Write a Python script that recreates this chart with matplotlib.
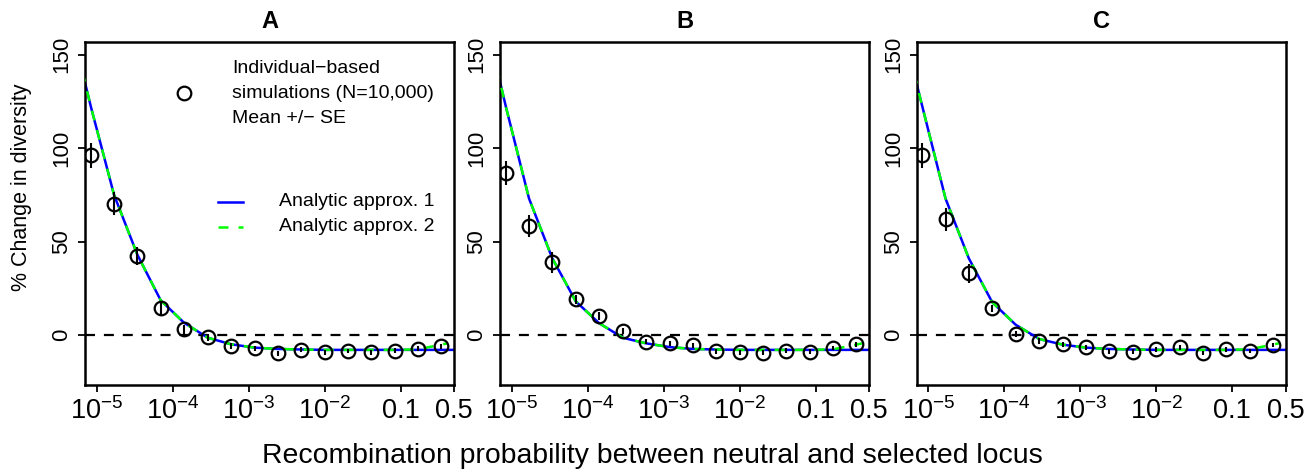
import numpy as np
import matplotlib
matplotlib.use("Agg")
import matplotlib.pyplot as plt

plt.rcParams['font.family'] = ['Liberation Sans', 'DejaVu Sans']
plt.rcParams['mathtext.fontset'] = 'custom'
plt.rcParams['mathtext.rm'] = 'Liberation Sans'
plt.rcParams['mathtext.it'] = 'Liberation Sans:italic'
plt.rcParams['mathtext.bf'] = 'Liberation Sans:bold'

# ---------------- data ----------------
panels = ["A", "B", "C"]

# recombination probabilities of the simulation points
r_sim = [8.4e-6, 1.69e-5, 3.42e-5, 6.95e-5, 1.41e-4, 2.89e-4, 5.85e-4, 1.19e-3,
         2.39e-3, 4.92e-3, 1.0e-2, 2.03e-2, 4.1e-2, 8.3e-2, 0.169, 0.339]

sim_mean_A = [96.1, 70.3, 42.2, 14.2, 3.0, -1.2, -5.9, -7.1, -9.8, -7.9, -9.4, -8.6, -9.4, -8.4, -7.3, -6.1]
sim_se_A   = [6.7, 6.0, 4.8, 3.6, 2.4, 1.8, 1.4, 1.4, 1.3, 1.3, 1.3, 1.3, 1.2, 1.2, 1.2, 1.2]

sim_mean_B = [86.7, 58.2, 38.8, 19.0, 10.1, 2.1, -3.6, -4.5, -5.5, -8.7, -9.3, -9.6, -8.4, -8.9, -7.1, -5.0]
sim_se_B   = [6.5, 6.0, 5.8, 2.2, 2.0, 1.8, 1.4, 1.4, 1.3, 1.3, 1.3, 1.3, 1.2, 1.2, 1.2, 1.2]

sim_mean_C = [96.1, 61.8, 32.9, 14.2, 0.5, -3.0, -5.0, -6.6, -8.7, -8.9, -7.6, -6.5, -9.6, -7.7, -8.6, -5.5]
sim_se_C   = [6.8, 6.2, 5.3, 2.0, 1.8, 1.6, 1.4, 1.4, 1.3, 1.3, 1.3, 1.3, 1.2, 1.2, 1.2, 1.2]

# analytic approximations
r_approx1 = [4.2e-6, 8.4e-6, 1.69e-5, 3.42e-5, 6.95e-5, 1.41e-4, 2.89e-4, 5.85e-4, 1.19e-3,
             2.39e-3, 4.92e-3, 1.0e-2, 2.03e-2, 4.1e-2, 8.3e-2, 0.169, 0.339, 0.5]
r_approx2 = [4.2e-6, 8.4e-6, 1.69e-5, 3.42e-5, 6.95e-5, 1.41e-4, 2.89e-4, 5.85e-4, 1.19e-3,
             2.39e-3, 4.92e-3, 1.0e-2, 2.03e-2, 4.1e-2, 8.3e-2, 0.169, 0.42]

approx1_A = [172, 122, 75, 43, 18.5, 6.5, -1.5, -5.0, -6.8, -7.5, -7.8, -8.0, -8.0, -8.0, -8.0, -8.0, -8.0, -8.0]
approx2_A = [172, 122, 75, 43, 18.5, 6.5, -1.5, -5.0, -6.8, -7.5, -7.8, -8.0, -8.0, -8.0, -8.0, -7.7, -4.4]

approx1_B = [174, 122, 73, 41, 18.0, 6.3, -1.5, -4.5, -6.5, -7.5, -7.8, -8.0, -8.0, -8.0, -8.0, -8.0, -8.0, -8.0]
approx2_B = [174, 122, 73, 41, 18.0, 6.3, -1.5, -4.5, -6.5, -7.5, -7.8, -8.0, -8.0, -8.0, -8.0, -7.7, -4.4]

approx1_C = [171, 122, 73, 41, 17.5, 5.5, -2.2, -5.2, -6.8, -7.5, -7.8, -8.0, -8.0, -8.0, -8.0, -8.0, -8.0, -8.0]
approx2_C = [171, 122, 73, 41, 17.5, 5.5, -2.2, -5.2, -6.8, -7.5, -7.8, -8.0, -8.0, -8.0, -8.0, -7.7, -4.4]

x_ticks = [1e-5, 1e-4, 1e-3, 1e-2, 0.1, 0.5]
x_ticklabels = [r'$\mathregular{10^{-5}}$', r'$\mathregular{10^{-4}}$', r'$\mathregular{10^{-3}}$',
                r'$\mathregular{10^{-2}}$', '0.1', '0.5']
y_ticks = [0, 50, 100, 150]

sim_means = [sim_mean_A, sim_mean_B, sim_mean_C]
sim_ses = [sim_se_A, sim_se_B, sim_se_C]
approx1 = [approx1_A, approx1_B, approx1_C]
approx2 = [approx2_A, approx2_B, approx2_C]

# ---------------- figure ----------------
W, H = 1305, 472
fig = plt.figure(figsize=(W / 100, H / 100), dpi=100)

lefts = [85, 500, 916.5]
aw, top, bottom = 369, 42, 385

FS = 16
for i, name in enumerate(panels):
    ax = fig.add_axes([lefts[i] / W, 1 - bottom / H, aw / W, (bottom - top) / H])
    ax.set_xscale('log')
    ax.set_xlim(10 ** -5.154, 0.5)
    ax.set_ylim(-26.8, 156.8)

    ax.axhline(0, color='black', lw=1.6, ls=(0, (4.5, 4)), zorder=1)
    ax.plot(r_approx1, approx1[i], color='#0000FF', lw=1.8, zorder=2)
    ax.plot(r_approx2, approx2[i], color='#00FF00', lw=1.8, ls=(0, (4, 4)), zorder=3)
    ax.errorbar(r_sim, sim_means[i], yerr=sim_ses[i], fmt='none', ecolor='black',
                elinewidth=1.5, capsize=0, zorder=4)
    ax.plot(r_sim, sim_means[i], 'o', mfc='none', mec='black', ms=9.8, mew=1.6, zorder=5)

    ax.set_xticks(x_ticks)
    ax.set_xticklabels(x_ticklabels)
    ax.minorticks_off()
    ax.set_yticks(y_ticks)
    ax.set_yticklabels([str(v) for v in y_ticks], rotation=90, va='center')
    ax.tick_params(axis='both', length=5, width=1.3, direction='out')
    ax.tick_params(axis='x', labelsize=19.5, pad=4)
    ax.tick_params(axis='y', labelsize=FS, pad=4)
    for sp in ax.spines.values():
        sp.set_linewidth(1.8)
    ax.set_title(name, fontsize=17, fontweight='bold', pad=10)

    if i == 0:
        # legend decorations
        ax.plot([0.268], [0.850], 'o', mfc='none', mec='black', ms=9.8, mew=1.6,
                transform=ax.transAxes, clip_on=False)
        for k, t in enumerate(['Individual\u2212based', 'simulations (N=10,000)', 'Mean +/\u2212 SE']):
            ax.text(0.399, 0.924 - 0.073 * k, t, transform=ax.transAxes, fontsize=14,
                    ha='left', va='center')
        ax.plot([0.361, 0.427], [0.534, 0.534], color='#0000FF', lw=1.8, transform=ax.transAxes)
        ax.plot([0.361, 0.427], [0.461, 0.461], color='#00FF00', lw=1.8, ls=(0, (4, 4)),
                transform=ax.transAxes)
        ax.text(0.526, 0.534, 'Analytic approx. 1', transform=ax.transAxes, fontsize=14,
                ha='left', va='center')
        ax.text(0.526, 0.461, 'Analytic approx. 2', transform=ax.transAxes, fontsize=14,
                ha='left', va='center')

fig.text(22 / W, 1 - 187 / H, '% Change in diversity', rotation=90,
         ha='center', va='center', fontsize=15.5)
fig.text(0.5, 1 - 456 / H, 'Recombination probability between neutral and selected locus',
         ha='center', va='center', fontsize=20.4)

fig.savefig('out.png', dpi=100)
